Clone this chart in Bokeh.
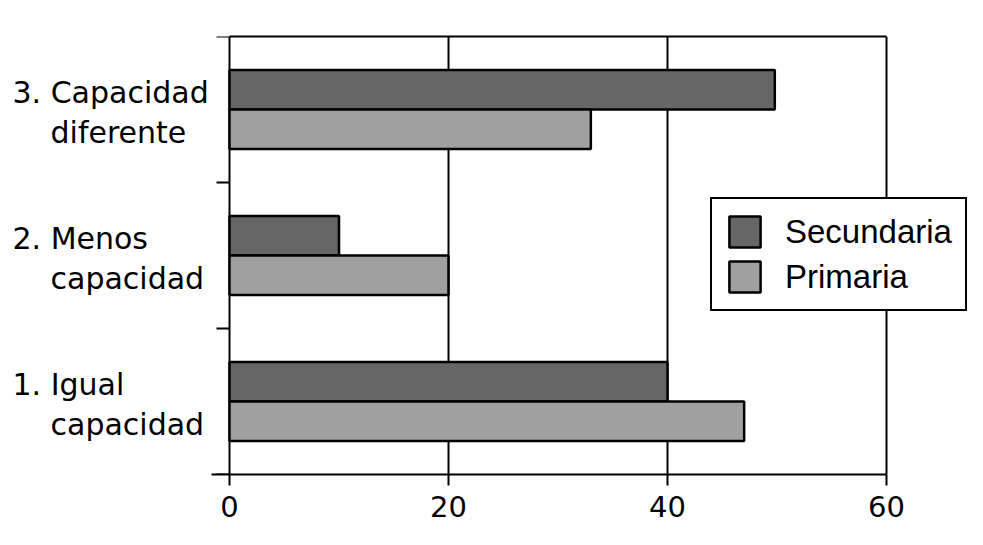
from bokeh.plotting import figure
from bokeh.models import Legend, LegendItem, FixedTicker, LinearAxis, Range1d
from bokeh.core.properties import value
from bokeh.embed import file_html
from bokeh.resources import INLINE

# ---- data ----
cat_line1 = ["1. Igual", "2. Menos", "3. Capacidad"]
cat_line2 = ["capacidad", "capacidad", "diferente"]
secundaria = [40, 10, 49.8]
primaria = [47, 20, 33]
x_ticks = [0, 20, 40, 60]
series_names = ["Secundaria", "Primaria"]
series_colors = ["#666666", "#a0a0a0"]

# ---- layout constants (pixels) ----
FRAME_W, FRAME_H = 967, 438
AXIS_LEFT_PX = 229          # where x=0 falls inside the frame
PLOT_W_PX = 657             # width of 0..60
ppu = PLOT_W_PX / (x_ticks[-1] - x_ticks[0])
x_start = x_ticks[0] - AXIS_LEFT_PX / ppu
x_end = x_start + FRAME_W / ppu

p = figure(frame_width=FRAME_W, frame_height=FRAME_H,
           x_range=Range1d(x_start, x_end), y_range=Range1d(0, len(cat_line1)),
           output_backend="svg", toolbar_location=None,
           y_axis_location=None,
           min_border_left=0, min_border_right=0,
           min_border_top=36, min_border_bottom=55)
p.background_fill_color = "white"
p.border_fill_color = "white"
p.outline_line_color = None

idx = list(range(len(cat_line1)))
dodge = 0.135
bar_h = 0.27
sec_y = [i + 0.5 + dodge for i in idx]
prim_y = [i + 0.5 - dodge for i in idx]

r1 = p.hbar(y=sec_y, left=0, right=secundaria, height=bar_h,
            fill_color=series_colors[0], line_color="black", line_width=2.5)
r2 = p.hbar(y=prim_y, left=0, right=primaria, height=bar_h,
            fill_color=series_colors[1], line_color="black", line_width=2.5)

# bottom axis
xa = p.xaxis[0]
xa.ticker = FixedTicker(ticks=x_ticks)
xa.bounds = (x_ticks[0] - 18 / ppu, x_ticks[-1])
xa.axis_line_width = 2
xa.major_tick_line_width = 2
xa.major_tick_out = 11
xa.major_tick_in = 0
xa.minor_tick_line_color = None
xa.major_label_text_font = "DejaVu Sans"
xa.major_label_text_font_size = "29px"
xa.major_label_text_color = "black"
xa.major_label_standoff = 10

# top border line
top = LinearAxis(ticker=FixedTicker(ticks=[]), bounds=(x_ticks[0], x_ticks[-1]),
                 axis_line_width=2, major_tick_line_color=None,
                 minor_tick_line_color=None, major_label_text_font_size="10px")
p.add_layout(top, "above")

# vertical grid lines (incl. value axis at 0 and right border at 60)
p.xgrid.grid_line_color = "black"
p.xgrid.grid_line_width = 2
p.xgrid.grid_line_alpha = 1
p.ygrid.grid_line_color = None

# category boundary ticks on the left
tick_len = 13 / ppu
bounds_y = list(range(len(cat_line1) + 1))
p.segment(x0=[x_ticks[0] - tick_len] * len(bounds_y), x1=[x_ticks[0]] * len(bounds_y),
          y0=bounds_y, y1=bounds_y, line_color="black", line_width=2)

# category labels
cy = [i + 0.5 for i in idx]
p.text(x=[0] * len(idx), y=cy, text=cat_line1, x_offset=-217, y_offset=-17,
       text_align="left", text_baseline="middle",
       text_font=value("DejaVu Sans"), text_font_size="30px", text_color="black")
p.text(x=[0] * len(idx), y=cy, text=cat_line2, x_offset=-179, y_offset=23,
       text_align="left", text_baseline="middle",
       text_font=value("DejaVu Sans"), text_font_size="30px", text_color="black")

legend = Legend(items=[LegendItem(label=series_names[0], renderers=[r1]),
                       LegendItem(label=series_names[1], renderers=[r2])],
                location=(710, 474 - 311), border_line_color="black",
                border_line_width=2, border_line_alpha=1,
                background_fill_color="white",
                background_fill_alpha=1, label_text_font="Liberation Sans",
                label_text_font_size="33px", label_text_color="black",
                glyph_width=39, glyph_height=39, label_height=39,
                label_standoff=21, padding=13, spacing=6, margin=0)
p.add_layout(legend, "center")

open("out.html", "w").write(file_html(p, INLINE))
